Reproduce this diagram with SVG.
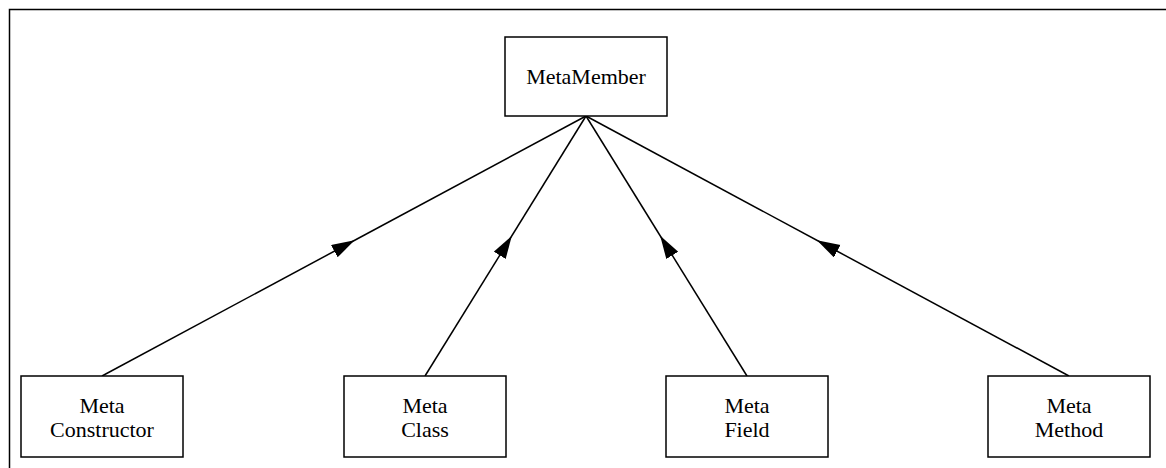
<svg xmlns="http://www.w3.org/2000/svg" width="1166" height="468" viewBox="0 0 1166 468">
<style>
.box{fill:#fff;stroke:#000;stroke-width:1.5}
.lbl{font-family:"Liberation Serif","Times New Roman",serif;font-size:22px;fill:#000;text-anchor:middle}
.edge{fill:none;stroke:#000;stroke-width:1.5;marker-mid:url(#arr)}
</style>
<defs>
<marker id="arr" markerUnits="userSpaceOnUse" markerWidth="26" markerHeight="16" refX="11" refY="7" orient="auto" viewBox="0 0 26 16">
<path d="M0,0 L23,7 L0,14 Z" fill="#000"/>
</marker>
</defs>
<rect width="1166" height="468" fill="#fff"/>
<path d="M9.5,468 V9.5 H1166" fill="none" stroke="#000" stroke-width="1.5"/>
<g id="connectors">
<path class="edge" d="M102,376 L344,246 L586,116"/>
<path class="edge" d="M425,376 L505.5,246 L586,116"/>
<path class="edge" d="M747,376 L666.5,246 L586,116"/>
<path class="edge" d="M1069,376 L827.5,246 L586,116"/>
</g>
<g id="MetaMember">
<rect class="box" x="505" y="37" width="162" height="79"/>
<text class="lbl" x="586" y="84">MetaMember</text>
</g>
<g id="MetaConstructor">
<rect class="box" x="21" y="376" width="162" height="81"/>
<text class="lbl" x="102" y="413">Meta</text>
<text class="lbl" x="102" y="437">Constructor</text>
</g>
<g id="MetaClass">
<rect class="box" x="344" y="376" width="162" height="81"/>
<text class="lbl" x="425" y="413">Meta</text>
<text class="lbl" x="425" y="437">Class</text>
</g>
<g id="MetaField">
<rect class="box" x="666" y="376" width="162" height="81"/>
<text class="lbl" x="747" y="413">Meta</text>
<text class="lbl" x="747" y="437">Field</text>
</g>
<g id="MetaMethod">
<rect class="box" x="988" y="376" width="162" height="81"/>
<text class="lbl" x="1069" y="413">Meta</text>
<text class="lbl" x="1069" y="437">Method</text>
</g>
</svg>
